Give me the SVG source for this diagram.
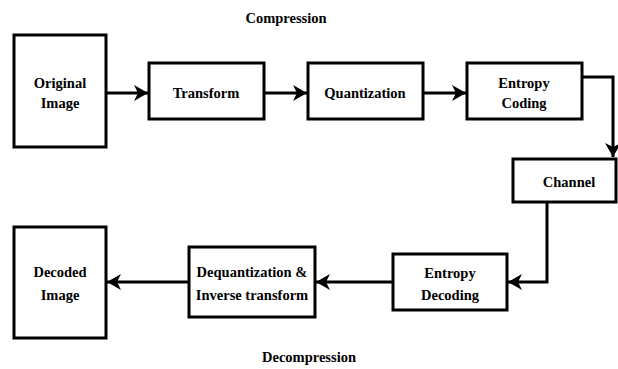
<svg xmlns="http://www.w3.org/2000/svg" width="618" height="369" viewBox="0 0 618 369">
<defs>
<style>
.box{fill:#fff;stroke:#000;stroke-width:3}
.lbl{font-family:'Liberation Serif','Times New Roman','DejaVu Serif',serif;font-weight:700;font-size:14.5px;fill:#000;text-anchor:middle}
.con{fill:none;stroke:#000;stroke-width:3}
</style>
<marker id="ah" markerUnits="userSpaceOnUse" markerWidth="16" markerHeight="18" refX="14" refY="8" orient="auto">
<path d="M0,0 L14,8 L0,16 L4,8 z" fill="#000"/>
</marker>
</defs>
<rect width="618" height="369" fill="#fff"/>
<g id="titles">
<text class="lbl" x="286" y="23">Compression</text>
<text class="lbl" x="309" y="362">Decompression</text>
</g>
<g id="connectors">
<path class="con" d="M106,93 H148" marker-end="url(#ah)"/>
<path class="con" d="M264,93 H307" marker-end="url(#ah)"/>
<path class="con" d="M423,93 H466" marker-end="url(#ah)"/>
<path class="con" d="M582,77 H613 V157" marker-end="url(#ah)"/>
<path class="con" d="M547,202 V282 H508" marker-end="url(#ah)"/>
<path class="con" d="M393,282 H316" marker-end="url(#ah)"/>
<path class="con" d="M189,282 H107" marker-end="url(#ah)"/>
</g>
<g id="original">
<rect class="box" x="14" y="35" width="92" height="112"/>
<text class="lbl" x="60" y="88">Original</text>
<text class="lbl" x="60" y="108">Image</text>
</g>
<g id="transform">
<rect class="box" x="149" y="63" width="115" height="56"/>
<text class="lbl" x="206" y="98">Transform</text>
</g>
<g id="quantization">
<rect class="box" x="308" y="63" width="115" height="56"/>
<text class="lbl" x="365" y="98">Quantization</text>
</g>
<g id="entropy-coding">
<rect class="box" x="467" y="63" width="115" height="56"/>
<text class="lbl" x="524" y="88">Entropy</text>
<text class="lbl" x="524" y="108">Coding</text>
</g>
<g id="channel">
<rect class="box" x="513" y="159" width="103" height="43"/>
<text class="lbl" x="569" y="187">Channel</text>
</g>
<g id="entropy-decoding">
<rect class="box" x="393" y="254" width="114" height="56"/>
<text class="lbl" x="450" y="278">Entropy</text>
<text class="lbl" x="450" y="300">Decoding</text>
</g>
<g id="dequant">
<rect class="box" x="189" y="247" width="126" height="70"/>
<text class="lbl" x="252" y="277">Dequantization &amp;</text>
<text class="lbl" x="252" y="300">Inverse transform</text>
</g>
<g id="decoded">
<rect class="box" x="14" y="227" width="92" height="111"/>
<text class="lbl" x="60" y="277">Decoded</text>
<text class="lbl" x="60" y="300">Image</text>
</g>
</svg>
